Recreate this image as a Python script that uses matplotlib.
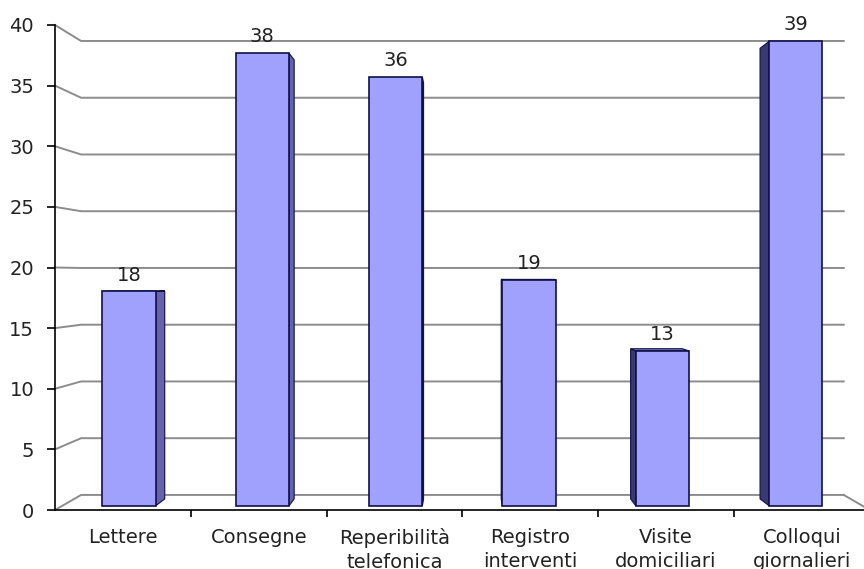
import matplotlib
matplotlib.use("Agg")
import matplotlib.pyplot as plt
from matplotlib.patches import Polygon

categories = ["Lettere", "Consegne", "Reperibilità\ntelefonica",
              "Registro\ninterventi", "Visite\ndomiciliari", "Colloqui\ngiornalieri"]
values = [18, 38, 36, 19, 13, 39]
y_ticks = [0, 5, 10, 15, 20, 25, 30, 35, 40]

# colours
FRONT = "#a0a0fd"
SIDE_R = "#6464aa"
SIDE_L = "#3a3a72"
TOP = "#7878c8"
EDGE = "#10104a"
GRID = "#8c8c8c"
TEXT = "#222222"

# simple perspective: depth factor k scales towards the vanishing point
VP = (3.0, 19.4)
K_WALL = 0.936      # back wall
K_FRONT = 0.982     # front face of the bars
K_BACK = 0.953      # back face of the bars
BAR_W = 0.40


def proj(x, y, k):
    return VP[0] + (x - VP[0]) * k, VP[1] + (y - VP[1]) * k


W, H = 864, 569
fig = plt.figure(figsize=(W / 100, H / 100), dpi=100, facecolor="white")
ax = fig.add_axes([55 / W, (H - 510) / H, 6 * 135.8 / W, 485 / H])
ax.set_xlim(0, len(categories))
ax.set_ylim(0, 40)

# gridlines on the side wall and back wall
n = len(categories)
for v in y_ticks:
    lx, ly = proj(0, v, K_WALL)
    rx, ry = proj(n, v, K_WALL)
    ax.plot([0, lx, rx], [v, ly, ry], color=GRID, lw=1.4,
            clip_on=False, zorder=1, solid_joinstyle="miter")
# right edge of the floor
rx, ry = proj(n, 0, K_WALL)
ax.plot([rx, n], [ry, 0], color=GRID, lw=1.4, clip_on=False, zorder=1)

# bars
for i, v in enumerate(values):
    c = i + 0.5
    x0, x1 = c - BAR_W / 2, c + BAR_W / 2
    fx0, fy0 = proj(x0, 0, K_FRONT)
    fx1, fy1 = proj(x1, v, K_FRONT)

    # visible side face
    if c < VP[0]:
        xe, side_col = x1, SIDE_R
    else:
        xe, side_col = x0, SIDE_L
    side = [proj(xe, 0, K_FRONT), proj(xe, v, K_FRONT),
            proj(xe, v, K_BACK), proj(xe, 0, K_BACK)]
    ax.add_patch(Polygon(side, closed=True, facecolor=side_col,
                         edgecolor=EDGE, lw=0.8, zorder=3, clip_on=False))

    # top face only when below eye level
    if v < VP[1]:
        top = [proj(x0, v, K_FRONT), proj(x1, v, K_FRONT),
               proj(x1, v, K_BACK), proj(x0, v, K_BACK)]
        ax.add_patch(Polygon(top, closed=True, facecolor=TOP,
                             edgecolor=EDGE, lw=0.8, zorder=3, clip_on=False))

    ax.bar(fx0, fy1 - fy0, width=fx1 - fx0, bottom=fy0, align="edge",
           color=FRONT, edgecolor=EDGE, lw=1.2, zorder=4, clip_on=False)

    ax.annotate(str(v), ((fx0 + fx1) / 2, fy1), xytext=(0, 5),
                textcoords="offset points", ha="center", va="bottom",
                fontsize=14, color=TEXT, zorder=5, annotation_clip=False)

# axes
for s in ["top", "right"]:
    ax.spines[s].set_visible(False)
for s in ["left", "bottom"]:
    ax.spines[s].set_color("black")
    ax.spines[s].set_linewidth(1.2)

ax.set_yticks(y_ticks)
ax.tick_params(axis="y", direction="out", length=6, width=1.2, pad=9,
               labelsize=14, labelcolor=TEXT)

ax.set_xticks(range(1, n))
ax.set_xticklabels([])
ax.set_xticks([i + 0.5 for i in range(n)], minor=True)
ax.set_xticklabels(categories, minor=True, linespacing=1.3)
ax.tick_params(axis="x", which="major", direction="out", length=5, width=1.2)
ax.tick_params(axis="x", which="minor", length=0, pad=13,
               labelsize=14, labelcolor=TEXT)

fig.savefig("out.png", dpi=100, facecolor="white")
